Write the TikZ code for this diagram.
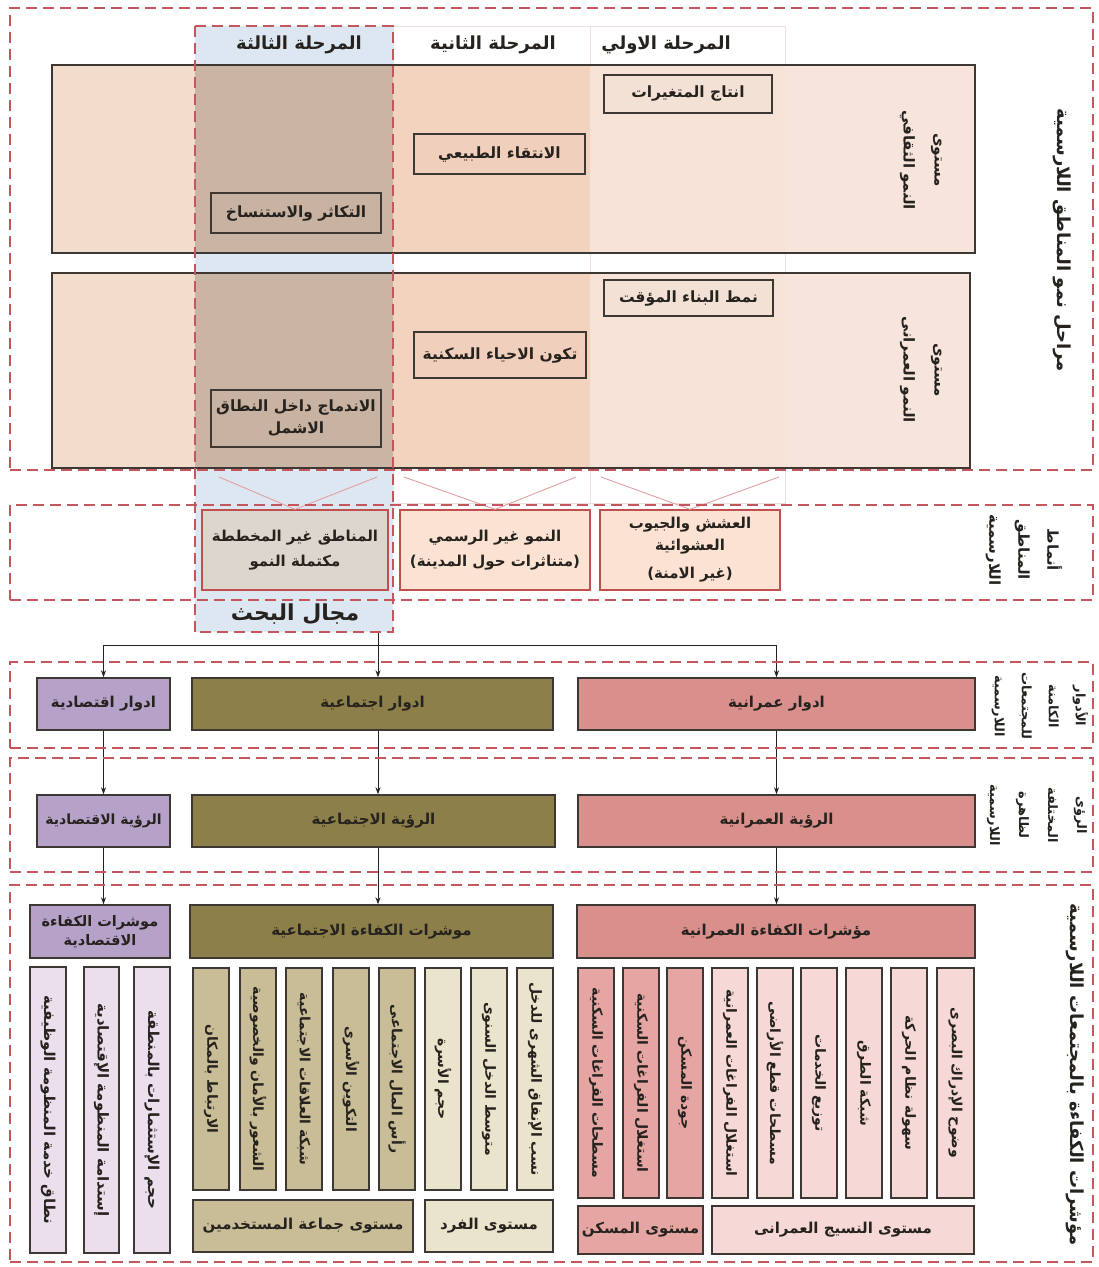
\documentclass[tikz,border=0pt]{standalone}
\usepackage{fontspec}
\usetikzlibrary{arrows.meta}
\TeXXeTstate=1
\newfontfamily\arabicfont[Script=Arabic]{DejaVu Sans}
\newcommand\artxt[1]{\beginR #1\endR}
\newcommand\arsize[2]{\arabicfont\bfseries\fontsize{#1}{#2}\selectfont}
% box from its two corners: name, style, x1, y1, x2, y2, text
\newcommand\boxat[7]{\node[#2, minimum width={#5pt-#3pt}, minimum height={#6pt-#4pt}] (#1) at ({(#3+#5)/2},{(#4+#6)/2}) {#7};}
% upright column with its text turned a quarter
\newcommand\colat[7]{\node[#2, rotate=-90, minimum width={#6pt-#4pt}, minimum height={#5pt-#3pt}] (#1) at ({(#3+#5)/2},{(#4+#6)/2}) {#7};}

\definecolor{dash}{RGB}{196,86,94}
\definecolor{scopeblue}{RGB}{221,231,242}
\definecolor{lvlA}{RGB}{242,221,205}
\definecolor{lvlT}{RGB}{202,181,165}
\definecolor{lvlB}{RGB}{241,211,190}
\definecolor{lvlC}{RGB}{246,226,214}
\definecolor{lvlD}{RGB}{247,229,219}
\definecolor{frame}{RGB}{62,56,52}
\definecolor{ink}{RGB}{38,34,30}
\definecolor{faint}{RGB}{238,224,220}
\definecolor{vpink}{RGB}{226,160,162}
\definecolor{patred}{RGB}{192,80,77}
\definecolor{patgrey}{RGB}{221,214,206}
\definecolor{patpeach}{RGB}{251,226,210}
\definecolor{econ}{RGB}{182,161,201}
\definecolor{soc}{RGB}{141,127,74}
\definecolor{urb}{RGB}{217,144,140}
\definecolor{econL}{RGB}{235,223,237}
\definecolor{socD}{RGB}{200,189,150}
\definecolor{socL}{RGB}{235,228,204}
\definecolor{urbD}{RGB}{228,165,163}
\definecolor{urbL}{RGB}{246,216,214}
\definecolor{inA}{RGB}{244,225,213}
\definecolor{inB}{RGB}{240,208,188}
\definecolor{inC}{RGB}{200,178,162}

\tikzset{
  txtbase/.style={inner sep=1pt, align=center, text=ink, font=\arsize{15}{19}},
  stagebox/.style={txtbase, draw=frame, line width=1.8pt, font=\arsize{15.5}{19}},
  patbox/.style={txtbase, draw=patred, line width=1.4pt, font=\arsize{15}{25}},
  rolebox/.style={txtbase, draw=frame, line width=1.4pt, font=\arsize{15}{20}},
  colbox/.style={txtbase, draw=frame, line width=1.3pt, inner sep=0pt, font=\arsize{14}{16}},
  secbox/.style={draw=dash, line width=1.5pt, dash pattern=on 11pt off 6pt, inner sep=0pt},
  sidelab/.style={txtbase, rotate=-90, font=\arsize{15}{29}},
  stagehead/.style={txtbase, font=\arsize{18}{22}},
  arr/.style={draw=ink, line width=1pt, -{Stealth[length=7pt,width=5pt]}},
  joint/.style={draw=ink, line width=1pt},
  vline/.style={draw=vpink, line width=0.9pt},
}

\begin{document}
\begin{tikzpicture}[x=1pt,y=-1pt]
\useasboundingbox (0,0) rectangle (1099,1267);
\fill[white] (0,0) rectangle (1099,1267);

% third-stage column (research scope)
\node[fill=scopeblue, inner sep=0pt, minimum width=198pt, minimum height=606pt] (scope) at (294,329) {};
\draw[faint, line width=0.6pt] (393,26) rectangle (590,503);
\draw[faint, line width=0.6pt] (590,26) rectangle (785,503);

% stage headers
\node[stagehead] (st3) at (299,45) {\artxt{المرحلة الثالثة}};
\node[stagehead] (st2) at (493,45) {\artxt{المرحلة الثانية}};
\node[stagehead] (st1) at (666,45) {\artxt{المرحلة الاولي}};

% level: cultural growth
\fill[lvlA] (52,65) rectangle (195,253);
\fill[lvlT] (195,65) rectangle (393,253);
\fill[lvlB] (393,65) rectangle (590,253);
\fill[lvlC] (590,65) rectangle (785,253);
\fill[lvlD] (785,65) rectangle (975,253);
\boxat{lvlone}{draw=frame, line width=1.8pt}{52}{65}{975}{253}{}

% level: urban growth
\fill[lvlA] (52,273) rectangle (195,468);
\fill[lvlT] (195,273) rectangle (393,468);
\fill[lvlB] (393,273) rectangle (590,468);
\fill[lvlC] (590,273) rectangle (785,468);
\fill[lvlD] (785,273) rectangle (970,468);
\boxat{lvltwo}{draw=frame, line width=1.8pt}{52}{273}{970}{468}{}

\node[sidelab, font=\arsize{15}{31}] (lvlonelab) at (921,160) {\artxt{مستوى}\\\artxt{النمو الثقافي}};
\node[sidelab, font=\arsize{15}{31}] (lvltwolab) at (921,370) {\artxt{مستوى}\\\artxt{النمو العمرانى}};

% stage boxes
\boxat{sa}{stagebox, fill=inA}{604}{75}{772}{113}{\artxt{انتاج المتغيرات}}
\boxat{sb}{stagebox, fill=inB}{414}{134}{585}{174}{\artxt{الانتقاء الطبيعي}}
\boxat{sc}{stagebox, fill=inC}{211}{193}{381}{233}{\artxt{التكاثر والاستنساخ}}
\boxat{sd}{stagebox, fill=inA}{604}{280}{773}{316}{\artxt{نمط البناء المؤقت}}
\boxat{se}{stagebox, fill=inB}{414}{332}{586}{378}{\artxt{تكون الاحياء السكنية}}
\boxat{sf}{stagebox, fill=inC, font=\arsize{15.5}{22}}{211}{390}{381}{447}{\artxt{الاندماج داخل النطاق}\\\artxt{الاشمل}}

% patterns of informal areas
\boxat{patc}{patbox, fill=patgrey}{202}{510}{388}{590}{\artxt{المناطق غير المخططة}\\\artxt{مكتملة النمو}}
\boxat{patb}{patbox, fill=patpeach}{400}{510}{590}{590}{\artxt{النمو غير الرسمي}\\\artxt{(متناثرات حول المدينة)}}
\boxat{pata}{patbox, fill=patpeach, font=\arsize{15}{22}}{600}{510}{780}{590}{\artxt{العشش والجيوب}\\\artxt{العشوائية}\\[6pt]\artxt{(غير الامنة)}}

% funnels from the stage columns to the patterns
\coordinate (v3a) at (219,477); \coordinate (v3b) at (377,477);
\coordinate (v2a) at (404,477); \coordinate (v2b) at (576,477);
\coordinate (v1a) at (601,477); \coordinate (v1b) at (779,477);
\draw[vline] (v3a) -- (patc.north) -- (v3b);
\draw[vline] (v2a) -- (patb.north) -- (v2b);
\draw[vline] (v1a) -- (pata.north) -- (v1b);

\node[txtbase, font=\arsize{22}{26}] (field) at (295,614) {\artxt{مجال البحث}};

% latent roles
\boxat{roleE}{rolebox, fill=econ}{37}{678}{170}{730}{\artxt{ادوار اقتصادية}}
\boxat{roleS}{rolebox, fill=soc}{192}{678}{553}{730}{\artxt{ادوار اجتماعية}}
\boxat{roleU}{rolebox, fill=urb}{578}{678}{975}{730}{\artxt{ادوار عمرانية}}

% visions
\boxat{visE}{rolebox, fill=econ, font=\arsize{14}{18}}{37}{795}{170}{847}{\artxt{الرؤية الاقتصادية}}
\boxat{visS}{rolebox, fill=soc}{192}{795}{555}{847}{\artxt{الرؤية الاجتماعية}}
\boxat{visU}{rolebox, fill=urb}{578}{795}{975}{847}{\artxt{الرؤية العمرانية}}

% efficiency indicators
\boxat{indE}{rolebox, fill=econ, font=\arsize{14.5}{19}}{30}{905}{170}{958}{\artxt{موشرات الكفاءة}\\\artxt{الاقتصادية}}
\boxat{indS}{rolebox, fill=soc}{190}{905}{553}{958}{\artxt{موشرات الكفاءة الاجتماعية}}
\boxat{indU}{rolebox, fill=urb}{577}{905}{975}{958}{\artxt{مؤشرات الكفاءة العمرانية}}

% economic indicator columns
\colat{e1}{colbox, fill=econL, font=\arsize{15}{16}}{30}{967}{66}{1253}{\artxt{نطاق خدمة المنظومة الوظيفية}}
\colat{e2}{colbox, fill=econL, font=\arsize{15}{16}}{84}{967}{119}{1253}{\artxt{إستدامة المنظومة الإقتصادية}}
\colat{e3}{colbox, fill=econL, font=\arsize{15}{16}}{134}{967}{170}{1253}{\artxt{حجم الإستثمارات بالمنطقة}}

% social indicator columns
\colat{s1}{colbox, fill=socD}{193}{968}{229}{1190}{\artxt{الارتباط بالمكان}}
\colat{s2}{colbox, fill=socD}{240}{968}{276}{1190}{\artxt{الشعور بالأمان والخصوصية}}
\colat{s3}{colbox, fill=socD}{286}{968}{322}{1190}{\artxt{شبكة العلاقات الاجتماعية}}
\colat{s4}{colbox, fill=socD}{333}{968}{369}{1190}{\artxt{التكوين الأسرى}}
\colat{s5}{colbox, fill=socD}{379}{968}{415}{1190}{\artxt{رأس المال الاجتماعى}}
\colat{s6}{colbox, fill=socL}{425}{968}{461}{1190}{\artxt{حجم الأسرة}}
\colat{s7}{colbox, fill=socL}{471}{968}{507}{1190}{\artxt{متوسط الدخل السنوى}}
\colat{s8}{colbox, fill=socL}{517}{968}{553}{1190}{\artxt{نسب الإنفاق الشهرى للدخل}}
\boxat{sl1}{rolebox, fill=socD}{193}{1200}{413}{1252}{\artxt{مستوى جماعة المستخدمين}}
\boxat{sl2}{rolebox, fill=socL}{425}{1200}{553}{1252}{\artxt{مستوى الفرد}}

% urban indicator columns
\colat{u1}{colbox, fill=urbD}{578}{968}{614}{1198}{\artxt{مسطحات الفراغات السكنية}}
\colat{u2}{colbox, fill=urbD}{623}{968}{659}{1198}{\artxt{استغلال الفراغات السكنية}}
\colat{u3}{colbox, fill=urbD}{667}{968}{703}{1198}{\artxt{جودة المسكن}}
\colat{u4}{colbox, fill=urbL}{712}{968}{748}{1198}{\artxt{استغلال الفراغات العمرانية}}
\colat{u5}{colbox, fill=urbL}{757}{968}{793}{1198}{\artxt{مسطحات قطع الأراضى}}
\colat{u6}{colbox, fill=urbL}{801}{968}{837}{1198}{\artxt{توزيع الخدمات}}
\colat{u7}{colbox, fill=urbL}{846}{968}{882}{1198}{\artxt{شبكة الطرق}}
\colat{u8}{colbox, fill=urbL}{891}{968}{927}{1198}{\artxt{سهولة نظام الحركة}}
\colat{u9}{colbox, fill=urbL}{937}{968}{974}{1198}{\artxt{وضوح الإدراك البصرى}}
\boxat{ul1}{rolebox, fill=urbD}{578}{1206}{703}{1254}{\artxt{مستوى المسكن}}
\boxat{ul2}{rolebox, fill=urbL}{712}{1206}{974}{1254}{\artxt{مستوى النسيج العمرانى}}

% connectors
\coordinate (split) at (378,645);
\draw[joint] (scope.south -| split) -- (split);
\draw[joint] (split -| roleE) -- (split -| roleU);
\draw[arr] (split -| roleE) -- (roleE.north);
\draw[arr] (split) -- (roleS.north -| split);
\draw[arr] (split -| roleU) -- (roleU.north);
\draw[arr] (roleE) -- (visE);
\draw[arr] (roleS.south -| split) -- (visS.north -| split);
\draw[arr] (roleU) -- (visU);
\draw[arr] (visE.south) -- (visE.south |- indE.north);
\draw[arr] (visS.south -| split) -- (indS.north -| split);
\draw[arr] (visU.south) -- (visU.south |- indU.north);

% dashed sections
\boxat{secone}{secbox}{10}{8}{1093}{470}{}
\boxat{sectwo}{secbox}{10}{505}{1093}{600}{}
\boxat{secthree}{secbox}{10}{662}{1093}{748}{}
\boxat{secfour}{secbox}{10}{758}{1093}{872}{}
\boxat{secfive}{secbox}{10}{885}{1093}{1262}{}
\draw[secbox] (scope.north west) rectangle (scope.south east);

% section titles
\node[sidelab, font=\arsize{18}{22}] (labone) at (1062,240) {\artxt{مراحل نمو المناطق اللارسمية}};
\node[sidelab, font=\arsize{15}{29}] (labtwo) at (1024,550) {\artxt{أنماط}\\\artxt{المناطق}\\\artxt{اللارسمية}};
\node[sidelab, font=\arsize{13}{27}] (labthree) at (1040,706) {\artxt{الأدوار}\\\artxt{الكامنة}\\\artxt{للمجتمعات}\\\artxt{اللارسمية}};
\node[sidelab, font=\arsize{13}{29}] (labfour) at (1037,815) {\artxt{الرؤى}\\\artxt{المختلفة}\\\artxt{لظاهرة}\\\artxt{اللارسمية}};
\node[sidelab, font=\arsize{18}{22}] (labfive) at (1075,1075) {\artxt{مؤشرات الكفاءة بالمجتمعات اللارسمية}};
\end{tikzpicture}
\end{document}
